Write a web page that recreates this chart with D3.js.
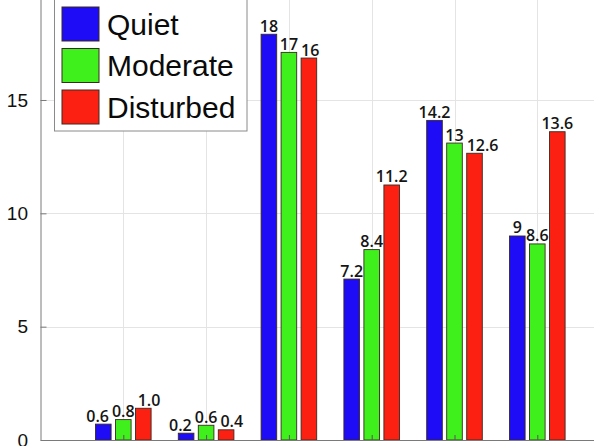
<!DOCTYPE html>
<html>
<head>
<meta charset="utf-8">
<script src="https://cdn.jsdelivr.net/npm/d3@7"></script>
<style>
  html, body { margin: 0; padding: 0; background: #fff; }
  svg { display: block; }
</style>
</head>
<body>
<div id="chart"></div>
<script>
// data
const groups = [0, 1, 2, 3, 4, 5];
const seriesNames = ['Quiet', 'Moderate', 'Disturbed'];
const seriesColours = ['#1d0cf5', '#40f01c', '#fb2012'];
const quiet = [0.7, 0.3, 17.9, 7.1, 14.1, 9.0];
const moderate = [0.9, 0.65, 17.1, 8.4, 13.1, 8.65];
const disturbed = [1.4, 0.45, 16.85, 11.25, 12.65, 13.6];
const quietLabels = ['0.6', '0.2', '18', '7.2', '14.2', '9'];
const moderateLabels = ['0.8', '0.6', '17', '8.4', '13', '8.6'];
const disturbedLabels = ['1.0', '0.4', '16', '11.2', '12.6', '13.6'];
const yTicks = [0, 5, 10, 15];

const width = 594;
const height = 446;
const left = 40.5;
const bottom = 440;
const groupStep = 82.8;
const unit = 22.667;

const series = [quiet, moderate, disturbed];
const labels = [quietLabels, moderateLabels, disturbedLabels];

const x = d3.scaleLinear().domain([-1, 6]).range([left, left + 7 * groupStep]);
const y = d3.scaleLinear().domain([0, 20]).range([bottom, bottom - 20 * unit]);

const barW = 15.6 / groupStep;   // in group units
const barStep = 20 / groupStep;

const svg = d3.select('#chart')
  .append('svg')
  .attr('width', width)
  .attr('height', height);

// grid
const grid = svg.append('g').attr('class', 'grid');
grid.selectAll('line.h')
  .data(yTicks.filter(d => d > 0))
  .enter()
  .append('line')
  .attr('class', 'h')
  .attr('x1', left)
  .attr('x2', width)
  .attr('y1', d => Math.round(y(d)) + 0.5)
  .attr('y2', d => Math.round(y(d)) + 0.5)
  .attr('stroke', '#e4e4e4');
grid.selectAll('line.v')
  .data(groups)
  .enter()
  .append('line')
  .attr('class', 'v')
  .attr('x1', d => Math.round(x(d)) + 0.5)
  .attr('x2', d => Math.round(x(d)) + 0.5)
  .attr('y1', 0)
  .attr('y2', bottom)
  .attr('stroke', '#e4e4e4');

// bars
const bars = svg.append('g').attr('class', 'bars');
series.forEach((values, s) => {
  bars.selectAll(`rect.s${s}`)
    .data(values)
    .enter()
    .append('rect')
    .attr('class', `s${s}`)
    .attr('x', (d, i) => x(groups[i] + (s - 1) * barStep - barW / 2))
    .attr('width', x(barW) - x(0))
    .attr('y', d => y(d))
    .attr('height', d => y(0) - y(d))
    .attr('fill', seriesColours[s])
    .attr('stroke', '#3a2a20')
    .attr('stroke-width', 0.9);
});

// value labels
const valueLabels = svg.append('g').attr('class', 'labels');
const labelNodes = series.map((values, s) => valueLabels.selectAll(`text.s${s}`)
  .data(values)
  .enter()
  .append('text')
  .attr('class', `s${s}`)
  .attr('x', (d, i) => x(groups[i] + (s - 1) * barStep))
  .attr('y', d => y(d) - 2.5)
  .attr('text-anchor', 'middle')
  .style('font-family', '"Open Sans", sans-serif')
  .style('font-weight', 600)
  .style('font-size', '16px')
  .style('fill', '#151515')
  .text((d, i) => labels[s][i])
  .nodes());

// keep the middle label centred, nudge the outer ones sideways when they collide
const gap = 3;
groups.forEach((g, i) => {
  const mid = labelNodes[1][i];
  const midX = +mid.getAttribute('x');
  const midW = mid.getComputedTextLength();
  const midY = +mid.getAttribute('y');
  [0, 2].forEach(s => {
    const node = labelNodes[s][i];
    const nx = +node.getAttribute('x');
    const nw = node.getComputedTextLength();
    const ny = +node.getAttribute('y');
    if (Math.abs(ny - midY) > 12) return;
    const need = (midW + nw) / 2 + gap;
    const dist = Math.abs(nx - midX);
    if (dist < need) {
      const dir = s === 0 ? -1 : 1;
      node.setAttribute('x', midX + dir * need);
    }
  });
});

// axes
const yAxis = d3.axisLeft(y)
  .tickValues(yTicks)
  .tickSizeInner(-6)
  .tickSizeOuter(0)
  .tickPadding(12.5);

const yg = svg.append('g')
  .attr('transform', `translate(${left},0)`)
  .call(yAxis);
yg.select('.domain').attr('stroke', '#7a7a7a');
yg.selectAll('.tick line').attr('stroke', '#7a7a7a');
yg.selectAll('.tick text')
  .style('font-family', '"Liberation Sans", Arial, sans-serif')
  .style('font-size', '19px')
  .style('fill', '#111');

const xAxis = d3.axisBottom(x)
  .tickValues(groups)
  .tickSizeInner(-5)
  .tickSizeOuter(0)
  .tickFormat('');

const xg = svg.append('g')
  .attr('transform', `translate(0,${bottom})`)
  .call(xAxis);
xg.select('.domain').attr('stroke', '#7a7a7a');
xg.selectAll('.tick line').attr('stroke', '#555');

// legend
const legend = svg.append('g').attr('class', 'legend');
legend.append('rect')
  .attr('x', 54.5)
  .attr('y', -2)
  .attr('width', 192.5)
  .attr('height', 133)
  .attr('fill', '#fff')
  .attr('stroke', '#8a8a8a');

const items = legend.selectAll('g.item')
  .data(seriesNames)
  .enter()
  .append('g')
  .attr('class', 'item')
  .attr('transform', (d, i) => `translate(62,${7 + i * 41.5})`);

items.append('rect')
  .attr('width', 37)
  .attr('height', 34)
  .attr('fill', (d, i) => seriesColours[i])
  .attr('stroke', '#3a2a20');

items.append('text')
  .attr('x', 45)
  .attr('y', 17)
  .attr('dy', '0.36em')
  .style('font-family', '"Liberation Sans", Arial, sans-serif')
  .style('font-size', '30px')
  .style('fill', '#0a0a0a')
  .text(d => d);
</script>
</body>
</html>
